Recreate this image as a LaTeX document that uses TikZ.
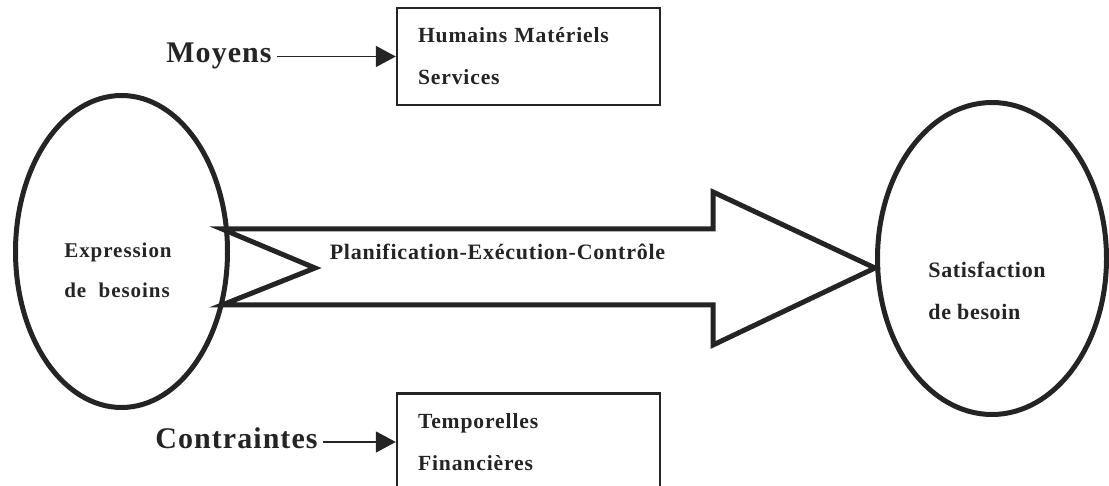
\documentclass[tikz,border=0pt]{standalone}
\usepackage{fontspec}
\setmainfont{Liberation Serif}
\usetikzlibrary{arrows.meta,shapes.geometric}
\definecolor{ink}{RGB}{36,36,36}
\begin{document}
\begin{tikzpicture}[x=0.5pt,y=-0.5pt,
  pole/.style={ellipse, draw=ink, line width=2.5pt, inner sep=0pt},
  poletext/.style={text=ink, align=left, inner sep=0pt,
    font=\bfseries\fontsize{10.5}{20}\selectfont\addfontfeature{LetterSpace=4.5}},
  listbox/.style={draw=ink, line width=1.2pt, minimum width=131.5pt,
    minimum height=48.5pt, text width=110.5pt, inner xsep=10.5pt, inner ysep=0pt,
    align=left, text=ink,
    font=\bfseries\fontsize{10.8}{21}\selectfont\addfontfeature{LetterSpace=4}},
  side/.style={text=ink, inner ysep=0pt, inner xsep=2.5pt,
    font=\bfseries\fontsize{15}{17}\selectfont\addfontfeature{LetterSpace=3.5}},
  feed/.style={draw=ink, line width=0.8pt, -{Triangle[length=10pt,width=10.5pt]}},
  flow/.style={draw=ink, line width=2.5pt, miter limit=10},
  flowtext/.style={text=ink, inner sep=0pt,
    font=\bfseries\fontsize{11}{13}\selectfont\addfontfeature{LetterSpace=3.5}}
]
\useasboundingbox (0,0) rectangle (1109,486);

% the two end states
\node[pole, minimum width=106pt, minimum height=156pt] (expr) at (121.5,251.5) {};
\node[poletext] (exprtext) at (118,270) {Expression\\de\ \ besoins};
\node[pole, minimum width=114.5pt, minimum height=156pt] (sat) at (992,258.5) {};
\node[poletext, anchor=west, font=\bfseries\fontsize{11}{21}\selectfont\addfontfeature{LetterSpace=3}]
  (sattext) at (928,291) {Satisfaction\\de besoin};

% the process, as a notched block arrow
\draw[flow] (222,229) -- (713,229) -- (713,192) -- (875,268) -- (713,345)
  -- (713,305) -- (222,305) -- (315,268) -- cycle;
\node[flowtext] (proc) at (497.5,252) {Planification-Exécution-Contrôle};

% resources and constraints
\node[listbox] (means) at (528.5,56.5) {Humains Matériels\\Services};
\node[side, anchor=east] (moy) at (277,56) {Moyens};
\draw[feed] (moy.east |- means.west) -- (means.west);

\node[listbox] (limits) at (528.5,442) {Temporelles\\Financières};
\node[side, anchor=east] (contr) at (323,438) {Contraintes};
\draw[feed] (contr.east |- limits.west) -- (limits.west);
\end{tikzpicture}
\end{document}
